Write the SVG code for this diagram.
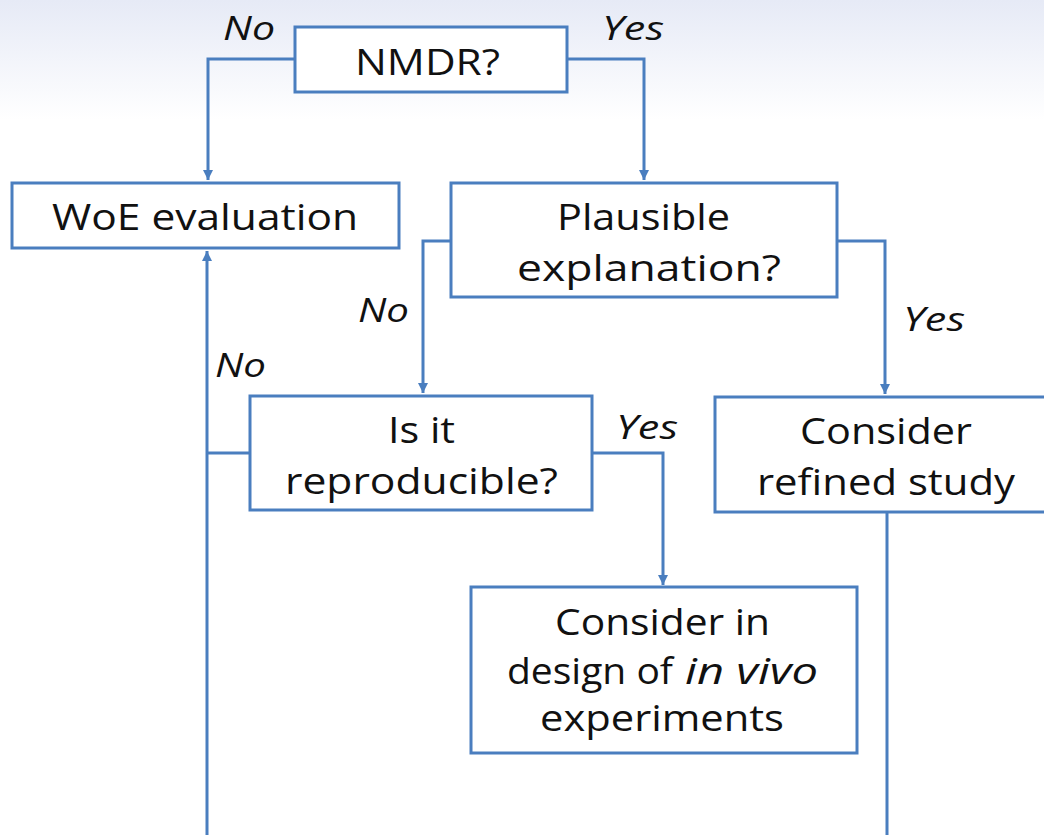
<svg xmlns="http://www.w3.org/2000/svg" width="1044" height="835" viewBox="0 0 1044 835">
<defs>
<linearGradient id="bg" x1="0" y1="0" x2="0" y2="1">
<stop offset="0" stop-color="#e6eaf6"/>
<stop offset="1" stop-color="#ffffff"/>
</linearGradient>
<marker id="ah" viewBox="0 0 10 10" refX="10" refY="5" markerWidth="10" markerHeight="10" markerUnits="userSpaceOnUse" orient="auto">
<path d="M0,0 L10,5 L0,10 z" fill="#4a7ebf"/>
</marker>
<style>
.box{fill:#ffffff;stroke:#4a7ebf;stroke-width:3}
.ln{fill:none;stroke:#4a7ebf;stroke-width:3}
.t{font-family:"Open Sans","DejaVu Sans",sans-serif;font-size:36px;fill:#111111}
.lb{font-family:"Open Sans","DejaVu Sans",sans-serif;font-size:32px;font-style:italic;fill:#111111}
</style>
</defs>
<rect x="0" y="0" width="1044" height="835" fill="#ffffff"/>
<rect x="0" y="0" width="1044" height="120" fill="url(#bg)"/>
<g id="connectors">
<path class="ln" d="M295,59 H208 V180" marker-end="url(#ah)"/>
<path class="ln" d="M567,59 H644 V180" marker-end="url(#ah)"/>
<path class="ln" d="M451,241 H423 V393" marker-end="url(#ah)"/>
<path class="ln" d="M837,241 H885 V394" marker-end="url(#ah)"/>
<path class="ln" d="M592,453 H663 V585" marker-end="url(#ah)"/>
<path class="ln" d="M250,453 H207"/>
<path class="ln" d="M207,835 V251" marker-end="url(#ah)"/>
<path class="ln" d="M887,512 V835"/>
<text class="lb" x="223" y="40" textLength="52" lengthAdjust="spacingAndGlyphs">No</text>
<text class="lb" x="602" y="40" textLength="62" lengthAdjust="spacingAndGlyphs">Yes</text>
<text class="lb" x="358" y="322" textLength="51" lengthAdjust="spacingAndGlyphs">No</text>
<text class="lb" x="215" y="377" textLength="51" lengthAdjust="spacingAndGlyphs">No</text>
<text class="lb" x="903" y="331" textLength="62" lengthAdjust="spacingAndGlyphs">Yes</text>
<text class="lb" x="616" y="439" textLength="62" lengthAdjust="spacingAndGlyphs">Yes</text>
</g>
<g id="nmdr">
<rect class="box" x="295" y="27" width="272" height="65"/>
<text class="t" x="355" y="75" textLength="145" lengthAdjust="spacingAndGlyphs">NMDR?</text>
</g>
<g id="woe">
<rect class="box" x="12" y="183" width="387" height="65"/>
<text class="t" x="52" y="230" textLength="306" lengthAdjust="spacingAndGlyphs">WoE evaluation</text>
</g>
<g id="plausible">
<rect class="box" x="451" y="183" width="386" height="114"/>
<text class="t" x="557" y="230" textLength="173" lengthAdjust="spacingAndGlyphs">Plausible</text>
<text class="t" x="517" y="281" textLength="264" lengthAdjust="spacingAndGlyphs">explanation?</text>
</g>
<g id="reproducible">
<rect class="box" x="250" y="396" width="342" height="114"/>
<text class="t" x="388" y="443" textLength="67" lengthAdjust="spacingAndGlyphs">Is it</text>
<text class="t" x="285" y="494" textLength="273" lengthAdjust="spacingAndGlyphs">reproducible?</text>
</g>
<g id="refined">
<rect class="box" x="715" y="397" width="345" height="115"/>
<text class="t" x="800" y="444" textLength="172" lengthAdjust="spacingAndGlyphs">Consider</text>
<text class="t" x="757" y="495" textLength="258" lengthAdjust="spacingAndGlyphs">refined study</text>
</g>
<g id="invivo">
<rect class="box" x="471" y="587" width="386" height="166"/>
<text class="t" x="555" y="635" textLength="215" lengthAdjust="spacingAndGlyphs">Consider in</text>
<text class="t" x="507" y="684" textLength="166" lengthAdjust="spacingAndGlyphs">design of</text>
<text class="t" x="685" y="684" textLength="133" lengthAdjust="spacingAndGlyphs" font-style="italic">in vivo</text>
<text class="t" x="540" y="731" textLength="244" lengthAdjust="spacingAndGlyphs">experiments</text>
</g>
</svg>
